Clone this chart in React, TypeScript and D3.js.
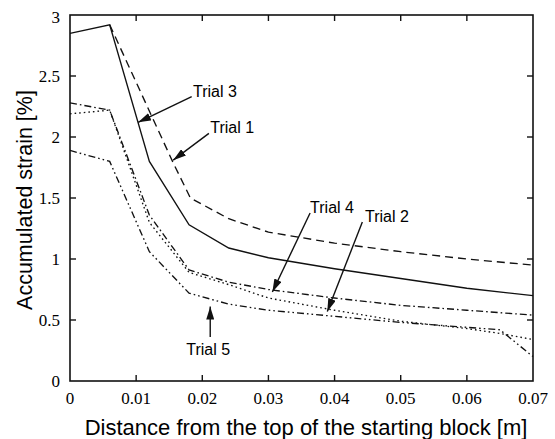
import React, { useEffect, useRef } from 'react';
import * as d3 from 'd3';

// distance [m] and accumulated strain [%] per trial
const trial1 = [
  [0.006, 2.92], [0.0155, 1.8], [0.0182, 1.5], [0.024, 1.33], [0.03, 1.22],
  [0.04, 1.13], [0.05, 1.06], [0.06, 1.0], [0.07, 0.95]
];
const trial2 = [
  [0, 2.19], [0.006, 2.22], [0.012, 1.3], [0.018, 0.89], [0.024, 0.79], [0.03, 0.68],
  [0.04, 0.58], [0.05, 0.49], [0.06, 0.43], [0.065, 0.39], [0.07, 0.34]
];
const trial3 = [
  [0, 2.85], [0.006, 2.92], [0.012, 1.8], [0.018, 1.28], [0.024, 1.09], [0.03, 1.01],
  [0.04, 0.92], [0.05, 0.84], [0.06, 0.76], [0.07, 0.7]
];
const trial4 = [
  [0, 2.28], [0.006, 2.22], [0.012, 1.36], [0.018, 0.91], [0.024, 0.81], [0.03, 0.75],
  [0.04, 0.68], [0.05, 0.62], [0.06, 0.58], [0.07, 0.54]
];
const trial5 = [
  [0, 1.89], [0.006, 1.8], [0.012, 1.06], [0.018, 0.72], [0.024, 0.63], [0.03, 0.58],
  [0.04, 0.53], [0.05, 0.48], [0.06, 0.44], [0.065, 0.42], [0.07, 0.2]
];

const xTicks = [0, 0.01, 0.02, 0.03, 0.04, 0.05, 0.06, 0.07];
const yTicks = [0, 0.5, 1, 1.5, 2, 2.5, 3];

// label text position and arrow (from -> tip), in data units
const labels = [
  { text: 'Trial 3', tx: 0.0186, ty: 2.33, from: [0.0184, 2.33], tip: [0.0103, 2.12], anchor: 'start' },
  { text: 'Trial 1', tx: 0.0212, ty: 2.03, from: [0.021, 2.03], tip: [0.0156, 1.81], anchor: 'start' },
  { text: 'Trial 4', tx: 0.0363, ty: 1.377, from: [0.0363, 1.377], tip: [0.0306, 0.73], anchor: 'start' },
  { text: 'Trial 2', tx: 0.0446, ty: 1.303, from: [0.0442, 1.303], tip: [0.0389, 0.57], anchor: 'start' },
  { text: 'Trial 5', tx: 0.0209, ty: 0.213, from: [0.0212, 0.36], tip: [0.0212, 0.61], anchor: 'middle' }
];

const App = () => {
  const svgRef = useRef(null);

  useEffect(() => {
    const width = 555;
    const height = 439;
    const margin = { top: 15, right: 22, bottom: 58, left: 70 };
    const svg = d3.select(svgRef.current);
    svg.selectAll('*').remove();
    svg.attr('width', width).attr('height', height);

    const x = d3.scaleLinear().domain([0, 0.07]).range([margin.left, width - margin.right]);
    const y = d3.scaleLinear().domain([0, 3]).range([height - margin.bottom, margin.top]);

    const series = [
      { data: trial1, dash: '8,5' },
      { data: trial2, dash: '1.6,3' },
      { data: trial3, dash: null },
      { data: trial4, dash: '7,3,1.6,3' },
      { data: trial5, dash: '7,3,1.6,3,1.6,3' }
    ];

    const line = d3.line().x(d => x(d[0])).y(d => y(d[1]));
    series.forEach(s => {
      svg.append('path')
        .datum(s.data)
        .attr('d', line)
        .attr('fill', 'none')
        .attr('stroke', '#111')
        .attr('stroke-width', 1.35)
        .attr('stroke-dasharray', s.dash);
    });

    // frame
    svg.append('rect')
      .attr('x', x(0)).attr('y', y(3))
      .attr('width', x(0.07) - x(0)).attr('height', y(0) - y(3))
      .attr('fill', 'none').attr('stroke', '#111').attr('stroke-width', 1.6);

    const tickLen = 6;
    const inner = xTicks.slice(1, -1);
    const innerY = yTicks.slice(1, -1);
    const ticks = svg.append('g').attr('stroke', '#111').attr('stroke-width', 1.4);
    inner.forEach(t => {
      ticks.append('line').attr('x1', x(t)).attr('x2', x(t)).attr('y1', y(0)).attr('y2', y(0) - tickLen);
      ticks.append('line').attr('x1', x(t)).attr('x2', x(t)).attr('y1', y(3)).attr('y2', y(3) + tickLen);
    });
    innerY.forEach(t => {
      ticks.append('line').attr('x1', x(0)).attr('x2', x(0) + tickLen).attr('y1', y(t)).attr('y2', y(t));
      ticks.append('line').attr('x1', x(0.07)).attr('x2', x(0.07) - tickLen).attr('y1', y(t)).attr('y2', y(t));
    });

    const serif = '"Liberation Serif", "Times New Roman", serif';
    const sans = '"Liberation Sans", Arial, sans-serif';

    svg.append('g').selectAll('text')
      .data(xTicks)
      .enter()
      .append('text')
      .attr('x', d => x(d))
      .attr('y', y(0) + 23)
      .attr('text-anchor', 'middle')
      .style('font-family', serif)
      .style('font-size', '17px')
      .text(d => d3.format('')(d));

    svg.append('g').selectAll('text')
      .data(yTicks)
      .enter()
      .append('text')
      .attr('x', x(0) - 10)
      .attr('y', d => (d === 3 ? y(d) + 8 : y(d) + 6))
      .attr('text-anchor', 'end')
      .style('font-family', serif)
      .style('font-size', '17px')
      .text(d => d3.format('')(d));

    svg.append('text')
      .attr('x', 306)
      .attr('y', 435)
      .attr('text-anchor', 'middle')
      .style('font-family', sans)
      .style('font-size', '22px')
      .text('Distance from the top of the starting block [m]');

    svg.append('text')
      .attr('transform', `translate(32,200) rotate(-90)`)
      .attr('text-anchor', 'middle')
      .style('font-family', sans)
      .style('font-size', '21.5px')
      .text('Accumulated strain [%]');

    // arrowhead
    svg.append('defs').append('marker')
      .attr('id', 'arrow')
      .attr('viewBox', '0 0 13 8')
      .attr('refX', 13).attr('refY', 4)
      .attr('markerWidth', 13).attr('markerHeight', 8)
      .attr('markerUnits', 'userSpaceOnUse')
      .attr('orient', 'auto')
      .append('path')
      .attr('d', 'M0,0 L13,4 L0,8 Z')
      .attr('fill', '#111');

    labels.forEach(l => {
      svg.append('text')
        .attr('x', x(l.tx)).attr('y', y(l.ty))
        .attr('text-anchor', l.anchor)
        .style('font-family', sans)
        .style('font-size', '16px')
        .text(l.text);
      svg.append('line')
        .attr('x1', x(l.from[0])).attr('y1', y(l.from[1]))
        .attr('x2', x(l.tip[0])).attr('y2', y(l.tip[1]))
        .attr('stroke', '#111').attr('stroke-width', 1.4)
        .attr('marker-end', 'url(#arrow)');
    });
  }, []);

  return (
    <div style={{ position: 'absolute', left: 0, top: 0, background: '#fff' }}>
      <svg ref={svgRef} style={{ display: 'block' }}></svg>
    </div>
  );
};

export default App;
